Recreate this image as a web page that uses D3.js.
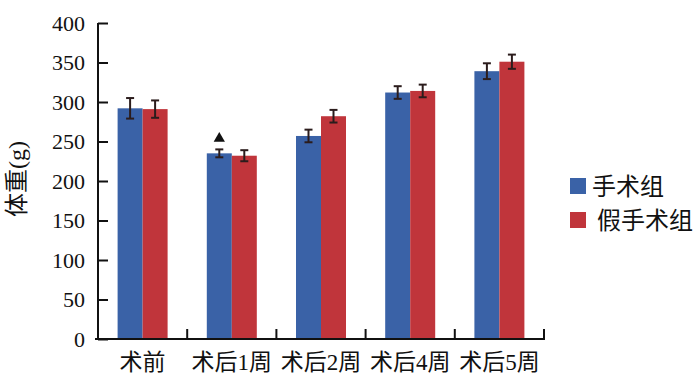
<!DOCTYPE html>
<meta charset="utf-8">
<script src="https://d3js.org/d3.v7.min.js"></script>
<style>
    body { margin: 0; background: #fff; }
    svg text { font-family: "Liberation Serif", "Noto Sans CJK SC", serif; fill: #111; }
</style>
<div id="chart"></div>
<script>
    // data
    var categories = ["术前", "术后1周", "术后2周", "术后4周", "术后5周"];
    var seriesNames = ["手术组", "假手术组"];
    var surgeryMean = [292, 235, 257, 312, 339];
    var surgeryErr = [13, 5, 8, 8, 10];
    var shamMean = [291, 232, 282, 314, 351];
    var shamErr = [11, 7, 8, 8, 9];
    var surgeryMark = [false, true, false, false, false];
    var yTicks = [0, 50, 100, 150, 200, 250, 300, 350, 400];
    var colors = ["#3a62a7", "#c0353b"];

    var width = 700, height = 389;
    var margin = { top: 23, right: 156, bottom: 50, left: 98 };

    var svg = d3.select("#chart").append("svg")
        .attr("width", width)
        .attr("height", height);

    var x0 = d3.scaleBand()
        .domain(categories)
        .range([margin.left, width - margin.right])
        .padding(0);

    var x1 = d3.scaleBand()
        .domain(seriesNames)
        .range([x0.bandwidth() / 2 - 25, x0.bandwidth() / 2 + 25])
        .padding(0);

    var y = d3.scaleLinear()
        .domain([0, 400])
        .range([height - margin.bottom, margin.top]);

    var rows = [];
    categories.forEach(function (c, i) {
        rows.push({ cat: c, s: seriesNames[0], v: surgeryMean[i], e: surgeryErr[i], mark: surgeryMark[i], color: colors[0] });
        rows.push({ cat: c, s: seriesNames[1], v: shamMean[i], e: shamErr[i], mark: false, color: colors[1] });
    });

    // bars
    svg.selectAll("rect.bar")
        .data(rows)
        .enter().append("rect")
        .attr("class", "bar")
        .attr("x", d => x0(d.cat) + x1(d.s))
        .attr("y", d => y(d.v))
        .attr("width", x1.bandwidth())
        .attr("height", d => y(0) - y(d.v))
        .attr("fill", d => d.color);

    // error bars
    var eb = svg.selectAll("g.err")
        .data(rows)
        .enter().append("g")
        .attr("class", "err")
        .attr("stroke", "#2b1c1c")
        .attr("stroke-width", 2);
    var cx = d => x0(d.cat) + x1(d.s) + x1.bandwidth() / 2;
    eb.append("line")
        .attr("x1", cx).attr("x2", cx)
        .attr("y1", d => y(d.v + d.e)).attr("y2", d => y(d.v - d.e));
    eb.append("line")
        .attr("x1", d => cx(d) - 4).attr("x2", d => cx(d) + 4)
        .attr("y1", d => y(d.v + d.e)).attr("y2", d => y(d.v + d.e));
    eb.append("line")
        .attr("x1", d => cx(d) - 4).attr("x2", d => cx(d) + 4)
        .attr("y1", d => y(d.v - d.e)).attr("y2", d => y(d.v - d.e));

    // significance triangle
    svg.selectAll("path.mark")
        .data(rows.filter(d => d.mark))
        .enter().append("path")
        .attr("class", "mark")
        .attr("d", d3.symbol().type(d3.symbolTriangle).size(55))
        .attr("transform", d => `translate(${cx(d)},${y(d.v + d.e) - 11})`)
        .attr("fill", "#111");

    // y axis
    var yAxis = svg.append("g")
        .attr("transform", `translate(${margin.left},0)`)
        .call(d3.axisRight(y).tickValues(yTicks).tickSize(10).tickFormat(d3.format("d")));
    yAxis.select(".domain").attr("stroke", "#111").attr("stroke-width", 2)
        .attr("d", `M0,${margin.top}V${height - margin.bottom}`);
    yAxis.selectAll(".tick line").attr("stroke", "#111").attr("stroke-width", 2);
    yAxis.selectAll(".tick text")
        .attr("x", -13)
        .attr("dy", "0.34em")
        .style("text-anchor", "end")
        .style("font-size", "22px");

    // x axis
    var xAxis = svg.append("g")
        .attr("transform", `translate(0,${y(0)})`);
    xAxis.append("line")
        .attr("x1", margin.left - 3).attr("x2", width - margin.right + 1)
        .attr("stroke", "#111").attr("stroke-width", 2);
    xAxis.selectAll("line.tk")
        .data(categories)
        .enter().append("line")
        .attr("class", "tk")
        .attr("x1", d => x0(d) + x0.bandwidth()).attr("x2", d => x0(d) + x0.bandwidth())
        .attr("y1", 0).attr("y2", -10)
        .attr("stroke", "#111").attr("stroke-width", 2);
    xAxis.selectAll("text")
        .data(categories)
        .enter().append("text")
        .attr("x", d => x0(d) + x0.bandwidth() / 2)
        .attr("y", 31)
        .attr("text-anchor", "middle")
        .style("font-size", "23px")
        .text(d => d);

    // y title
    svg.append("text")
        .attr("transform", "translate(25,179) rotate(-90)")
        .attr("text-anchor", "middle")
        .style("font-size", "24px")
        .text("体重(g)");

    // legend
    var legend = svg.selectAll("g.legend")
        .data(seriesNames)
        .enter().append("g")
        .attr("class", "legend")
        .attr("transform", (d, i) => `translate(570,${178 + i * 34})`);
    legend.append("rect")
        .attr("width", 16).attr("height", 16)
        .attr("fill", (d, i) => colors[i]);
    legend.append("text")
        .attr("x", (d, i) => i === 0 ? 22 : 27)
        .attr("y", 8)
        .attr("dy", "0.36em")
        .style("font-size", "24px")
        .text(d => d);
</script>
